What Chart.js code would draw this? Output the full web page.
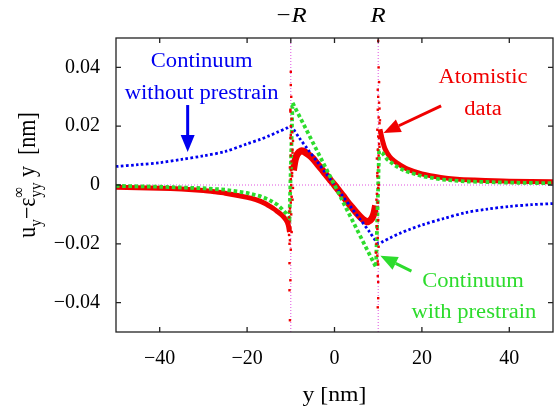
<!DOCTYPE html>
<html><head><meta charset="utf-8"><title>Displacement around the inclusion</title>
<style>html,body{margin:0;padding:0;background:#fff;} canvas{display:block;}</style>
</head><body>
<canvas id="myChart" width="557" height="412"></canvas>
<script src="https://cdn.jsdelivr.net/npm/chart.js"></script>
<script>
// axis ticks
const xTicks = [-40, -20, 0, 20, 40];
const yTicks = [-0.04, -0.02, 0, 0.02, 0.04];
const radiusMarks = [-10, 10];
const radiusLabels = ['\u2212R', 'R'];

// continuum without prestrain
const blueX = [-50, -45, -40, -35, -30, -25, -20, -17, -15, -13, -11, -10, -8, -6, -4, -2, 0, 2, 4, 6, 8, 10, 11, 13, 15, 17, 20, 25, 30, 35, 40, 45, 50];
const blueY = [0.0063, 0.0069, 0.0076, 0.0087, 0.0099, 0.0114, 0.0140, 0.0155, 0.0167, 0.0180, 0.0193, 0.0199, 0.0159, 0.0119, 0.0080, 0.0040, 0, -0.0040, -0.0080, -0.0119, -0.0159, -0.0199, -0.0193, -0.0178, -0.0164, -0.0152, -0.0136, -0.0114, -0.0094, -0.0082, -0.0073, -0.0067, -0.0063];

// continuum with prestrain
const greenX = [-50, -40, -30, -25, -20, -17, -15, -13, -12, -11, -10.3, -9.6, 0, 9.5, 10.2, 11, 12, 13.7, 15, 16.7, 20, 24.3, 30, 40, 50];
const greenY = [-0.0003, -0.0006, -0.0011, -0.0016, -0.0027, -0.0038, -0.0050, -0.0068, -0.0082, -0.0098, -0.0112, 0.0280, 0.0000, -0.0280, 0.0115, 0.0108, 0.0088, 0.0068, 0.0056, 0.0045, 0.0030, 0.0019, 0.0012, 0.0008, 0.0006];

// atomistic data, smooth parts
const redLeftX = [-50, -40, -35, -30, -27.5, -25, -20, -18, -16, -14, -13, -12, -11.1, -10.6, -10.3];
const redLeftY = [-0.0008, -0.0011, -0.0014, -0.0019, -0.0023, -0.0028, -0.0042, -0.0050, -0.0062, -0.0080, -0.0091, -0.0103, -0.0119, -0.0135, -0.0160];
const redMidX = [-9.4, -9, -8.5, -7.7, -7, -6, -5, -4, -3, -2, -1, 0, 1, 2, 3, 4, 5, 6, 7, 7.7, 8.5, 9, 9.4];
const redMidY = [0.0050, 0.0085, 0.0105, 0.0116, 0.0114, 0.0104, 0.0091, 0.0073, 0.0055, 0.0036, 0.0018, 0, -0.0019, -0.0038, -0.0058, -0.0076, -0.0094, -0.0110, -0.0122, -0.0125, -0.0115, -0.0098, -0.0070];
const redRightX = [10.4, 10.6, 11, 11.5, 12.1, 13, 14.4, 16.7, 20, 24.3, 28, 32, 40, 50];
const redRightY = [0.0190, 0.0176, 0.0150, 0.0125, 0.0108, 0.0090, 0.0074, 0.0054, 0.0038, 0.0026, 0.0020, 0.0017, 0.0013, 0.0011];

// atomistic data, scattered atoms at the interface
const redDotsX = [-10.0, -10.0, -9.9, -10.1, -9.8, -10.0, -9.7, -10.1, -9.9, -9.6, -10.0, -9.8, -10.2, -9.7, -10.0, -9.9, -10.1, -9.8, -10.0, -10.2, -9.9, -10.3, -10.1, -10.4, -10.2, -10.0, -10.3, -10.1, -10.3, -10.2,
  -9.5, -9.6, -9.4, -9.7, -9.5, -9.6, -10.3, -10.4, -10.2, -10.3, -9.9, -10.0, -9.8, -10.1,
  10.0, 10.1, 9.9, 10.0, 10.2, 9.9, 10.1, 10.3, 9.8, 10.0, 10.2, 9.9, 9.7, 10.0, 9.8, 10.1, 9.7, 9.9, 9.6, 10.0, 9.8, 9.9, 10.1, 9.8, 10.0, 9.9, 10.0, 10.0, 9.9,
  10.3, 10.4, 10.2, 10.3, 9.6, 9.5, 9.7, 9.6, 9.5, 10.1, 9.8, 10.0, 10.2, 9.9];
const redDotsY = [0.0385, 0.0340, 0.0300, 0.0256, 0.0225, 0.0200, 0.0180, 0.0160, 0.0140, 0.0120, 0.0100, 0.0080, 0.0060, 0.0040, 0.0020, 0.0000, -0.0020, -0.0040, -0.0060, -0.0080, -0.0100, -0.0125, -0.0145, -0.0170, -0.0188, -0.0220, -0.0266, -0.0324, -0.0358, -0.0460,
  0.0150, 0.0110, 0.0070, 0.0030, -0.0010, -0.0050, -0.0090, -0.0110, -0.0150, -0.0200, 0.0050, 0.0170, -0.0160, 0.0250,
  0.0490, 0.0400, 0.0324, 0.0300, 0.0280, 0.0256, 0.0230, 0.0210, 0.0188, 0.0165, 0.0140, 0.0120, 0.0090, 0.0060, 0.0030, 0.0000, -0.0030, -0.0060, -0.0090, -0.0120, -0.0150, -0.0180, -0.0210, -0.0240, -0.0270, -0.0310, -0.0330, -0.0385, -0.0416,
  0.0260, 0.0220, 0.0160, 0.0130, -0.0050, -0.0100, -0.0140, -0.0200, -0.0230, 0.0100, 0.0040, -0.0010, 0.0350, -0.0260];

const pts = (xs, ys) => xs.map((x, i) => ({ x: x, y: ys[i] }));

const SERIF = '"Liberation Serif", "DejaVu Serif", serif';
const STRETCH = 1.13;
const BLUE = '#0000f0', GREEN = '#2ddc2d', RED = '#f00000', MAGENTA = '#e050e0';

function wideText(ctx, text, x, y, align) {
  ctx.save();
  ctx.translate(x, y);
  ctx.scale(STRETCH, 1);
  ctx.textAlign = align || 'center';
  ctx.textBaseline = 'alphabetic';
  ctx.fillText(text, 0, 0);
  ctx.restore();
}

function arrow(ctx, x1, y1, x2, y2, color) {
  const a = Math.atan2(y2 - y1, x2 - x1), hl = 17, hw = 7;
  const bx = x2 - hl * Math.cos(a), by = y2 - hl * Math.sin(a);
  ctx.save();
  ctx.strokeStyle = color; ctx.fillStyle = color; ctx.lineWidth = 3;
  ctx.beginPath(); ctx.moveTo(x1, y1); ctx.lineTo(bx, by); ctx.stroke();
  ctx.beginPath();
  ctx.moveTo(x2, y2);
  ctx.lineTo(bx + hw * Math.sin(a), by - hw * Math.cos(a));
  ctx.lineTo(bx - hw * Math.sin(a), by + hw * Math.cos(a));
  ctx.closePath(); ctx.fill();
  ctx.restore();
}

function drawYTitle(ctx, cx, cy) {
  const big = '22px ' + SERIF, small = '15px ' + SERIF;
  ctx.save();
  ctx.translate(cx, cy);
  ctx.rotate(-Math.PI / 2);
  ctx.scale(1, STRETCH);
  ctx.fillStyle = '#000';
  ctx.textBaseline = 'alphabetic';
  ctx.textAlign = 'left';
  const w = (t, f) => { ctx.font = f; return ctx.measureText(t).width; };
  const stackW = Math.max(w('\u221e', small), w('yy', small));
  const total = w('u', big) + w('y', small) + w('\u2212', big) + w('\u03b5', big) + stackW + w(' y', big) + w('  [nm]', big);
  let x = -total / 2;
  const put = (t, f, dy) => { ctx.font = f; ctx.fillText(t, x, dy); return ctx.measureText(t).width; };
  x += put('u', big, 0);
  x += put('y', small, 5);
  x += put('\u2212', big, 0);
  x += put('\u03b5', big, 0);
  put('\u221e', small, -10);
  put('yy', small, 5);
  x += stackW;
  x += put(' y', big, 0);
  put('  [nm]', big, 0);
  ctx.restore();
}

const decorations = {
  id: 'decorations',
  afterDraw(chart) {
    const ctx = chart.ctx, a = chart.chartArea;
    const xs = chart.scales.x, ys = chart.scales.y;
    ctx.save();
    // frame and inward ticks
    ctx.strokeStyle = '#222'; ctx.lineWidth = 1.3;
    ctx.strokeRect(a.left, a.top, a.right - a.left, a.bottom - a.top);
    ctx.beginPath();
    xTicks.concat(radiusMarks).forEach(v => {
      const p = xs.getPixelForValue(v);
      ctx.moveTo(p, a.top); ctx.lineTo(p, a.top + 5);
    });
    xTicks.forEach(v => {
      const p = xs.getPixelForValue(v);
      ctx.moveTo(p, a.bottom); ctx.lineTo(p, a.bottom - 5);
    });
    yTicks.forEach(v => {
      const p = ys.getPixelForValue(v);
      ctx.moveTo(a.left, p); ctx.lineTo(a.left + 5, p);
      ctx.moveTo(a.right, p); ctx.lineTo(a.right - 5, p);
    });
    ctx.stroke();

    // top labels -R, R
    ctx.fillStyle = '#000';
    ctx.font = 'italic 22px ' + SERIF;
    radiusMarks.forEach((v, i) => wideText(ctx, radiusLabels[i], xs.getPixelForValue(v), 22, 'center'));

    // axis titles
    ctx.font = '21px ' + SERIF;
    wideText(ctx, 'y [nm]', (a.left + a.right) / 2, 401, 'center');
    drawYTitle(ctx, 35, 175);

    // annotations
    const P = (x, y) => [xs.getPixelForValue(x), ys.getPixelForValue(y)];
    ctx.font = '20px ' + SERIF;
    ctx.fillStyle = BLUE;
    wideText(ctx, 'Continuum', ...P(-30.4, 0.0401), 'center');
    wideText(ctx, 'without prestrain', ...P(-30.4, 0.0292), 'center');
    arrow(ctx, ...P(-33.6, 0.0272), ...P(-33.6, 0.0112), BLUE);

    ctx.fillStyle = RED;
    wideText(ctx, 'Atomistic', ...P(34.0, 0.0347), 'center');
    wideText(ctx, 'data', ...P(34.0, 0.0238), 'center');
    arrow(ctx, ...P(24.4, 0.0269), ...P(11.2, 0.0177), RED);

    ctx.fillStyle = GREEN;
    wideText(ctx, 'Continuum', ...P(31.7, -0.0347), 'center');
    wideText(ctx, 'with prestrain', ...P(31.9, -0.0452), 'center');
    arrow(ctx, ...P(17.6, -0.0293), ...P(10.5, -0.0241), GREEN);
    ctx.restore();
  }
};

const lineSet = (data, color, width, dash, extra) => Object.assign({
  data: data, showLine: true, borderColor: color, borderWidth: width,
  borderDash: dash, pointRadius: 0, tension: 0, fill: false
}, extra || {});

new Chart(document.getElementById('myChart'), {
  type: 'scatter',
  data: {
    datasets: [
      { data: pts(redDotsX, redDotsY), backgroundColor: RED, borderColor: RED, borderWidth: 0, pointStyle: 'rect', pointRadius: 1.7, showLine: false },
      lineSet(pts(greenX, greenY), GREEN, 3.8, [3.6, 2.6]),
      lineSet(pts(blueX, blueY), BLUE, 2.8, [2.6, 2.4], { tension: 0.3 }),
      lineSet(pts(redLeftX, redLeftY), RED, 5, [], { tension: 0.3 }),
      lineSet(pts(redMidX, redMidY), RED, 7, [], { tension: 0.3 }),
      lineSet(pts(redRightX, redRightY), RED, 5, [], { tension: 0.3 }),
      lineSet([{ x: -10, y: -0.05 }, { x: -10, y: 0.05 }], MAGENTA, 1, [1, 2]),
      lineSet([{ x: 10, y: -0.05 }, { x: 10, y: 0.05 }], MAGENTA, 1, [1, 2]),
      lineSet([{ x: -50, y: 0 }, { x: 50, y: 0 }], MAGENTA, 1, [1, 2])
    ]
  },
  options: {
    responsive: false,
    animation: false,
    layout: { padding: { top: 38, right: 3, left: 0, bottom: 0 } },
    plugins: { legend: { display: false }, tooltip: { enabled: false } },
    scales: {
      x: {
        type: 'linear', min: -50, max: 50,
        grid: { display: false, drawTicks: false }, border: { display: false },
        afterBuildTicks: s => { s.ticks = xTicks.map(v => ({ value: v })); },
        afterFit: s => { s.height = 80; },
        ticks: {
          padding: 15, color: '#000', font: { family: SERIF, size: 20 },
          callback: v => String(v).replace('-', '\u2212')
        }
      },
      y: {
        type: 'linear', min: -0.05, max: 0.05,
        grid: { display: false, drawTicks: false }, border: { display: false },
        afterBuildTicks: s => { s.ticks = yTicks.map(v => ({ value: v })); },
        afterFit: s => { s.width = 116; },
        ticks: {
          padding: 16, color: '#000', font: { family: SERIF, size: 20 },
          callback: v => (v === 0 ? '0' : v.toFixed(2).replace('-', '\u2212'))
        }
      }
    }
  },
  plugins: [decorations]
});
</script>
</body></html>
